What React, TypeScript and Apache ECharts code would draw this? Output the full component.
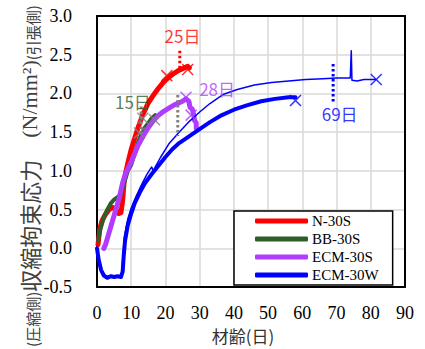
import React, { useEffect, useRef } from "react";
import * as echarts from "echarts";

type P = [number, number];

const seriesNames = ["N-30S", "BB-30S", "ECM-30S", "ECM-30W"];
const seriesColors = ["#ff0000", "#2e5e2a", "#b03cff", "#0000ff"];

const n30s: P[] = [
  [0.3, 0.05], [0.8, 0.25], [1.5, 0.36], [2.5, 0.44], [3.5, 0.5], [4.5, 0.53], [5.5, 0.5],
  [6.3, 0.45], [7.0, 0.46], [7.5, 0.62], [8.0, 0.9], [9.0, 1.1], [10.0, 1.28], [11.0, 1.42],
  [12.0, 1.56], [13.5, 1.74], [15.0, 1.88], [16.5, 1.98], [18.0, 2.07], [19.5, 2.15],
  [21.0, 2.21], [22.5, 2.26], [24.0, 2.3], [25.5, 2.33], [26.5, 2.35], [27.0, 2.33],
];

const bb30s: P[] = [
  [0.3, 0.1], [1.0, 0.25], [2.0, 0.4], [3.0, 0.5], [4.0, 0.58], [5.0, 0.63], [6.0, 0.66],
  [7.0, 0.7], [8.0, 0.85], [9.0, 1.0], [10.0, 1.08], [11.0, 1.22], [12.0, 1.37], [13.0, 1.48],
  [14.0, 1.56], [15.0, 1.62], [16.0, 1.68], [17.0, 1.72],
];

const ecm30s: P[] = [
  [2.0, 0.0], [2.5, 0.05], [3.5, 0.2], [4.5, 0.35], [5.5, 0.5], [6.5, 0.65], [7.5, 0.85],
  [8.5, 0.98], [9.5, 1.07], [10.5, 1.17], [12.0, 1.33], [13.5, 1.45], [15.0, 1.56],
  [16.5, 1.65], [18.0, 1.72], [19.5, 1.77], [21.0, 1.81], [22.5, 1.85], [24.0, 1.88],
  [25.0, 1.9], [26.0, 1.93], [26.8, 1.9], [27.2, 1.82], [27.8, 1.8], [28.3, 1.72],
  [28.5, 1.65], [29.0, 1.62], [29.0, 1.55],
];

const ecm30w: P[] = [
  [0, 0], [0.5, -0.15], [1.2, -0.28], [2.0, -0.35], [3.0, -0.38], [4.0, -0.36], [5.0, -0.37],
  [6.0, -0.36], [7.0, -0.37], [7.5, -0.3], [7.8, -0.1], [8.2, 0.1], [9.0, 0.3], [10.0, 0.45],
  [11.0, 0.58], [12.5, 0.72], [14.0, 0.84], [16.0, 0.96], [18.0, 1.07], [20.0, 1.18],
  [22.0, 1.28], [24.0, 1.36], [27.0, 1.45], [30.0, 1.54], [33.0, 1.63], [36.0, 1.71],
  [40.0, 1.79], [44.0, 1.85], [48.0, 1.9], [52.0, 1.93], [56.0, 1.95], [58.0, 1.95],
];

const ecm30wThin: P[] = [
  [0, 0.02], [0.6, -0.2], [1.5, -0.33], [2.5, -0.37], [4.0, -0.35], [6.0, -0.36], [7.2, -0.35],
  [7.6, -0.1], [8.0, 0.15], [9.0, 0.38], [10.0, 0.52], [11.5, 0.68], [13.0, 0.82],
  [14.5, 0.95], [15.5, 1.02], [16.0, 1.05], [16.5, 0.99], [17.0, 1.05], [18.5, 1.17],
  [21.0, 1.35], [24.0, 1.5], [27.0, 1.64], [30.0, 1.76], [33.0, 1.87], [37.0, 1.99],
  [41.0, 2.05], [46.0, 2.11], [51.0, 2.14], [56.0, 2.16], [61.0, 2.18], [66.0, 2.19],
  [70.0, 2.2], [74.0, 2.2], [74.3, 2.55], [74.5, 2.17], [76.0, 2.16], [78.0, 2.18], [81.5, 2.18],
];

// crack markers (×)
const redMarks: P[] = [[20.4, 2.23], [26.5, 2.31]];
const greyMarks: P[] = [[12.4, 1.49], [13.4, 1.68], [16.8, 1.66]];
const purpleMarks: P[] = [[26.0, 1.95], [27.5, 1.72]];
const blueMarks: P[] = [[58.0, 1.91], [81.6, 2.18]];

// dotted age lines
const redDot: P[] = [[24.2, 2.55], [24.2, 2.28]];
const greyDot1: P[] = [[12.9, 1.83], [12.9, 1.45]];
const greyDot2: P[] = [[23.6, 1.98], [23.6, 1.45]];
const blueDot: P[] = [[69.0, 2.38], [69.0, 1.87]];

// age labels
const ageLabels: { x: number; y: number; text: string; color: string }[] = [
  { x: 25.0, y: 2.75, text: "25日", color: "#ff0000" },
  { x: 10.5, y: 1.9, text: "15日", color: "#2e5e2a" },
  { x: 35.1, y: 2.07, text: "28日", color: "#b03cff" },
  { x: 70.9, y: 1.74, text: "69日", color: "#0000ff" },
];

const xMin = 0, xMax = 90, xStep = 10;
const yMin = -0.5, yMax = 3.0, yStep = 0.5;

const crossPath = "path://M0 0L10 10M10 0L0 10";

function lineSeries(name: string, data: P[], color: string, width: number, z = 2) {
  return {
    type: "line", name, data, showSymbol: false, symbol: "none", z,
    lineStyle: { color, width, cap: "round", join: "round" }, itemStyle: { color },
  };
}
function dotSeries(data: P[], color: string) {
  return {
    type: "line", data, symbol: "none", z: 3,
    lineStyle: { color, width: 3, type: [2.5, 2.5] },
  };
}
function markSeries(data: P[], color: string) {
  return {
    type: "scatter", data, symbol: crossPath, symbolSize: 11, z: 4,
    itemStyle: { color: "none", borderColor: color, borderWidth: 1.5 },
  };
}

export default function App() {
  const ref = useRef<HTMLDivElement>(null);
  useEffect(() => {
    const chart = echarts.init(ref.current!, null, { renderer: "svg" });
    const serif = "Liberation Serif";
    const cjk = "Noto Sans CJK JP";
    const option: any = {
      animation: false,
      backgroundColor: "#ffffff",
      grid: { left: 97, right: 20, top: 16, bottom: 56, containLabel: false },
      legend: {
        data: seriesNames,
        orient: "vertical",
        left: 234,
        top: 211,
        padding: [1, 14, 1, 21],
        itemGap: 0,
        itemWidth: 53,
        itemHeight: 5,
        icon: "roundRect",
        backgroundColor: "#ffffff",
        borderColor: "#000000",
        borderWidth: 1.5,
        borderRadius: 0,
        textStyle: { fontFamily: serif, fontSize: 15, fontWeight: "normal", color: "#000", lineHeight: 18, padding: [0, 0, 0, -1] },
      },
      xAxis: [
        {
          type: "value", min: xMin, max: xMax, interval: xStep,
          axisLine: { show: true, onZero: false, lineStyle: { color: "#000", width: 2 } },
          axisTick: { show: false },
          splitLine: { show: true, lineStyle: { color: "#d9d9d9", width: 1.5 } },
          axisLabel: { fontFamily: serif, fontSize: 18, color: "#000", margin: 17 },
          name: "材齢(日)", nameLocation: "middle", nameGap: 34,
          nameTextStyle: { fontFamily: cjk, fontSize: 17, color: "#333", padding: [0, 16, 0, 0] },
        },
        {
          type: "value", position: "top", min: xMin, max: xMax, interval: xStep,
          axisLine: { show: true, onZero: false, lineStyle: { color: "#000", width: 2 } },
          axisTick: { show: false }, axisLabel: { show: false }, splitLine: { show: false },
        },
      ],
      yAxis: [
        {
          type: "value", min: yMin, max: yMax, interval: yStep,
          axisLine: { show: true, onZero: false, lineStyle: { color: "#000", width: 2 } },
          axisTick: { show: false },
          splitLine: { show: true, lineStyle: { color: "#d9d9d9", width: 1.5 } },
          axisLabel: { fontFamily: serif, fontSize: 18, color: "#000", margin: 25, formatter: (v: number) => v.toFixed(1) },
        },
        {
          type: "value", position: "right", min: yMin, max: yMax, interval: yStep,
          axisLine: { show: true, onZero: false, lineStyle: { color: "#000", width: 2 } },
          axisTick: { show: false }, axisLabel: { show: false }, splitLine: { show: false },
        },
      ],
      graphic: [
        {
          type: "text", x: 29, y: 176, rotation: Math.PI / 2, z: 10,
          style: {
            text: "{s|(圧縮側)}{b|収縮拘束応力　}{m|(N/mm²)}{s|(引張側)}",
            align: "center", verticalAlign: "middle",
            rich: {
              s: { fontFamily: cjk, fontSize: 15, fill: "#404040", verticalAlign: "bottom" },
              b: { fontFamily: cjk, fontSize: 22, fill: "#404040", verticalAlign: "bottom" },
              m: { fontFamily: serif, fontSize: 22, fill: "#404040", verticalAlign: "bottom" },
            },
          },
        },
      ],
      series: [
        lineSeries(seriesNames[0], n30s, seriesColors[0], 5, 2),
        lineSeries(seriesNames[1], bb30s, seriesColors[1], 4, 3),
        lineSeries(seriesNames[2], ecm30s, seriesColors[2], 5, 3),
        lineSeries(seriesNames[3], ecm30w, seriesColors[3], 4, 3),
        lineSeries("ECM-30W-2", ecm30wThin, seriesColors[3], 1.5, 3),
        dotSeries(redDot, "#ff0000"),
        dotSeries(greyDot1, "#808080"),
        dotSeries(greyDot2, "#808080"),
        dotSeries(blueDot, "#0000ff"),
        markSeries(redMarks, "#ff0000"),
        markSeries(greyMarks, "#808080"),
        markSeries(purpleMarks, "#b03cff"),
        markSeries(blueMarks, "#0000ff"),
        {
          type: "scatter", symbolSize: 0, z: 5,
          data: ageLabels.map((a) => ({
            value: [a.x, a.y],
            label: {
              show: true, position: "inside", formatter: a.text,
              fontFamily: cjk, fontSize: 17, color: a.color,
            },
          })),
        },
      ],
    };
    chart.setOption(option);
    return () => chart.dispose();
  }, []);
  return <div ref={ref} style={{ position: "fixed", left: 0, top: 0, width: 425, height: 349 }} />;
}
